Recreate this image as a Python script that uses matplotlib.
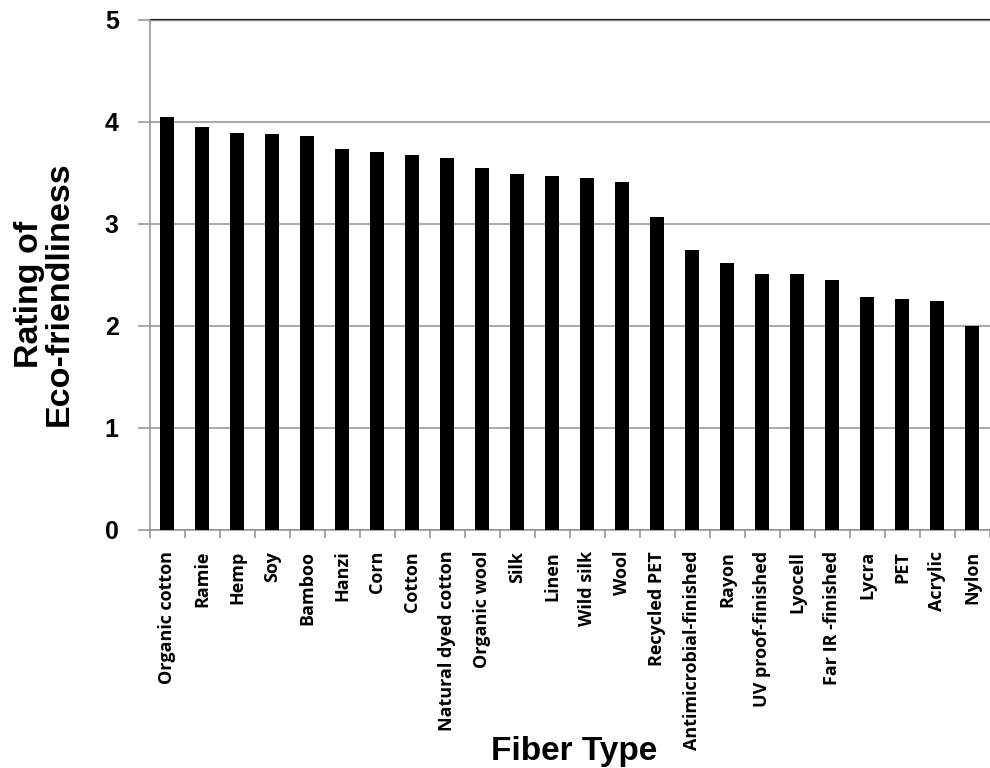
import matplotlib
matplotlib.use("Agg")
import matplotlib.pyplot as plt
import numpy as np

fibers = ["Organic cotton", "Ramie", "Hemp", "Soy", "Bamboo", "Hanzi", "Corn",
          "Cotton", "Natural dyed cotton", "Organic wool", "Silk", "Linen",
          "Wild silk", "Wool", "Recycled PET", "Antimicrobial-finished", "Rayon",
          "UV proof-finished", "Lyocell", "Far IR -finished", "Lycra", "PET",
          "Acrylic", "Nylon"]
ratings = [4.05, 3.95, 3.89, 3.88, 3.86, 3.73, 3.71, 3.68, 3.65, 3.55, 3.49,
           3.47, 3.45, 3.41, 3.07, 2.74, 2.62, 2.51, 2.51, 2.45, 2.28, 2.26,
           2.24, 2.00]
yticks = [0, 1, 2, 3, 4, 5]

fig = plt.figure(figsize=(9.9, 7.68), dpi=100)
ax = fig.add_axes([0.1515, 0.31, 0.8485, 0.664])

x = np.arange(len(fibers))
ax.bar(x, ratings, width=0.4, color="black", zorder=3)

ax.set_xlim(-0.5, len(fibers) - 0.5)
ax.set_ylim(0, 5)
ax.set_yticks(yticks)
ax.set_yticklabels([str(t) for t in yticks], fontsize=18, fontweight="bold",
                   family="Liberation Sans")
ax.yaxis.grid(True, color="#999999", linewidth=1.2, zorder=0)
ax.axhline(5, color="#222222", linewidth=1.6, zorder=1, clip_on=False)

# category boundary ticks
ax.set_xticks(np.arange(len(fibers) + 1) - 0.5)
ax.set_xticklabels([])
ax.set_xticks(x, minor=True)
ax.set_xticklabels(fibers, minor=True, rotation=90, fontsize=13,
                   fontweight="bold", family="Open Sans")
ax.tick_params(axis="x", which="major", length=6, color="#999999", width=1.2)
ax.tick_params(axis="x", which="minor", length=0, pad=15)
ax.tick_params(axis="y", length=8.5, color="#999999", width=1.2, pad=14)

for s in ["top", "right"]:
    ax.spines[s].set_visible(False)
for s in ["left", "bottom"]:
    ax.spines[s].set_color("#999999")
    ax.spines[s].set_linewidth(1.2)

fig.text(44 / 990, 1 - 294 / 768, "Rating of\nEco-friendliness", fontsize=24.5,
         fontweight="bold", family="Liberation Sans", rotation=90,
         ha="center", va="center", multialignment="center", linespacing=0.95)
fig.text(574 / 990, 1 - 760 / 768, "Fiber Type", fontsize=24, fontweight="bold",
         family="Liberation Sans", ha="center", va="baseline")

fig.savefig("out.png", dpi=100)
